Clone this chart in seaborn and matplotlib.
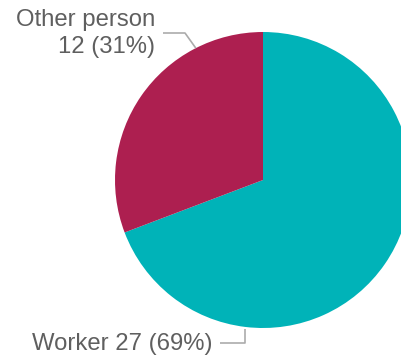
import numpy as np
import matplotlib
matplotlib.use("Agg")
import matplotlib.pyplot as plt
import seaborn as sns

categories = ["Worker", "Other person"]
counts = [27, 12]
colors = ["#00B3B8", "#AD1F50"]

sns.set_theme(style="white")
plt.rcParams["font.family"] = ["Liberation Sans", "DejaVu Sans"]

W, H, DPI = 402, 359, 100
CX, CY, R = 263, 180, 148  # pie centre and radius in pixels


def px(x, y):
    """Pixel position (from top-left) to data units where the pie radius is 1."""
    return (x - CX) / R, (CY - y) / R


fig = plt.figure(figsize=(W / DPI, H / DPI), dpi=DPI)
ax = fig.add_axes([0, 0, 1, 1])
ax.set_axis_off()

ax.pie(counts, colors=colors, startangle=90, counterclock=False, radius=1.0,
       wedgeprops=dict(linewidth=0), frame=False)
ax.set_xlim(px(0, 0)[0], px(W, 0)[0])
ax.set_ylim(px(0, H)[1], px(0, 0)[1])
ax.set_aspect("auto")

total = sum(counts)
pcts = [round(100 * c / total) for c in counts]
text_color = "#5f5f5f"
line_color = "#ababab"
fs = 17.2

# Other person label with elbow leader
tx, ty = px(155, 9)
ax.text(tx, ty, f"{categories[1]}\n{counts[1]} ({pcts[1]}%)", ha="right", va="top",
        fontsize=fs, color=text_color, linespacing=1.3)
a = np.deg2rad(117)
p0 = px(163, 33)
p1 = px(185, 33)
ax.plot([p0[0], p1[0], 1.0 * np.cos(a)], [p0[1], p1[1], 1.0 * np.sin(a)],
        color=line_color, lw=1.2, solid_capstyle="butt")

# Worker label with elbow leader
tx, ty = px(32, 344)
ax.text(tx, ty, f"{categories[0]} {counts[0]} ({pcts[0]}%)", ha="left", va="center",
        fontsize=fs, color=text_color)
q0 = px(220, 343)
q1 = px(245, 343)
q2 = px(245, 329)
ax.plot([q0[0], q1[0], q2[0]], [q0[1], q1[1], q2[1]],
        color=line_color, lw=1.2, solid_capstyle="butt")

fig.savefig("out.png", dpi=DPI, facecolor="white")
